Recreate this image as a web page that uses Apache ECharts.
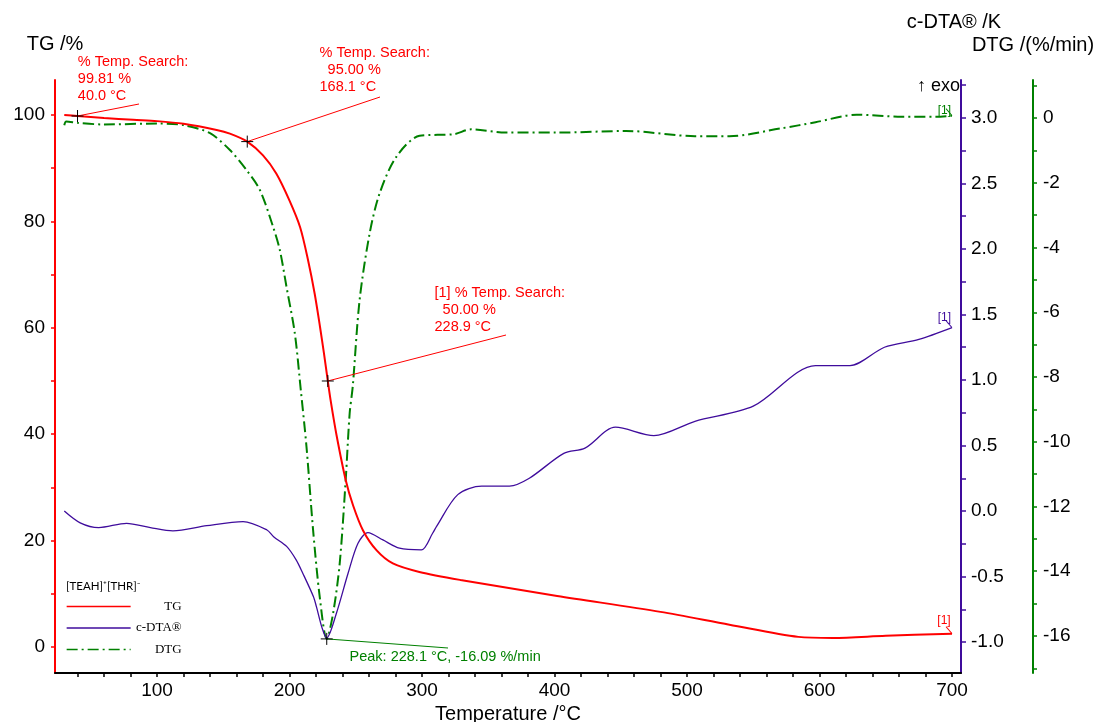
<!DOCTYPE html>
<html>
<head>
<meta charset="utf-8">
<title>TG / c-DTA / DTG</title>
<script src="https://cdn.jsdelivr.net/npm/echarts@6/dist/echarts.min.js"></script>
<style>
  html, body { margin: 0; padding: 0; background: #ffffff; }
  #chart { width: 1099px; height: 722px; }
</style>
</head>
<body>
<div id="chart"></div>
<script>
// ---- measured curves: [temperature °C, value] ----
const tgData = [
  [30, 100.0], [40, 99.81], [60, 99.45], [82, 99.1], [100, 98.85], [120, 98.35],
  [145, 97.2], [155, 96.5], [168.1, 95.0], [180, 92.4], [190, 89.0], [200, 83.9],
  [208, 78.9], [214, 72.7], [219, 66.4], [223, 60.2], [226, 55.2], [228.9, 50.0],
  [231, 46.4], [235.5, 39.8], [242.4, 31.4], [248, 26.6], [255.5, 21.9], [265.6, 18.2],
  [278, 15.7], [298, 14.1], [329, 12.6], [402, 9.6], [480, 6.6], [532, 4.2],
  [584, 1.9], [610, 1.7], [650, 2.1], [700, 2.5]
];

const dtaData = [
  [30, 0.0], [42, -0.09], [56, -0.127], [77, -0.094], [95, -0.127], [112, -0.152],
  [137.5, -0.112], [165, -0.081], [183, -0.145], [188, -0.196], [198, -0.272],
  [205, -0.373], [210, -0.475], [218, -0.653], [220.3, -0.73], [224.5, -0.89],
  [228, -0.97], [235.4, -0.78], [244.2, -0.475], [251.7, -0.246], [259.2, -0.165],
  [270.5, -0.221], [283, -0.284], [299.5, -0.297], [308, -0.17], [311, -0.117],
  [327, 0.125], [345, 0.19], [366, 0.19], [381, 0.25], [407, 0.44], [423, 0.48],
  [446, 0.64], [475, 0.576], [506, 0.685], [550, 0.80], [597, 1.11], [623, 1.11],
  [649, 1.25], [675, 1.31], [700, 1.40]
];

const dtgData = [
  [30, -0.22], [31.5, -0.11], [40, -0.15], [60, -0.2], [100, -0.17], [120, -0.22],
  [140, -0.47], [155, -0.99], [167.6, -1.61], [177.6, -2.22], [187.6, -3.36],
  [192.7, -4.08], [197.7, -5.21], [204, -6.65], [208.5, -8.4], [212.8, -10.15],
  [217.8, -12.73], [222.8, -14.79], [228.1, -16.09], [232.9, -15.3], [237.9, -13.75],
  [242.4, -11.18], [245.4, -9.12], [247.7, -8.3], [252.9, -5.62], [260.5, -3.56],
  [268, -2.33], [280.6, -1.2], [298.2, -0.55], [324, -0.5], [337, -0.35], [363, -0.45],
  [402, -0.45], [454, -0.40], [506, -0.56], [532, -0.56], [571, -0.32], [597, -0.13],
  [628, 0.10], [662, 0.04], [688, 0.04], [700, 0.07]
];

// ---- evaluated points ----
const searchTemps = [40.0, 168.1, 228.9];
const searchMass = [99.81, 95.00, 50.00];
const searchTags = ['', '', '[1] '];
const peakTemp = 228.1;
const peakRate = -16.09;

// ---- ticks and labels ----
const tempTicks = [40, 60, 80, 100, 120, 140, 160, 180, 200, 220, 240, 260, 280, 300,
  320, 340, 360, 380, 400, 420, 440, 460, 480, 500, 520, 540, 560, 580, 600, 620,
  640, 660, 680, 700];
const tempLabels = [100, 200, 300, 400, 500, 600, 700];
const tgTicks = [0, 10, 20, 30, 40, 50, 60, 70, 80, 90, 100];
const tgLabels = [0, 20, 40, 60, 80, 100];
const dtaTicks = [-1.0, -0.75, -0.5, -0.25, 0, 0.25, 0.5, 0.75, 1.0, 1.25, 1.5, 1.75,
  2.0, 2.25, 2.5, 2.75, 3.0, 3.25];
const dtaLabels = [-1.0, -0.5, 0.0, 0.5, 1.0, 1.5, 2.0, 2.5, 3.0];
const dtgTicks = [-17, -16, -15, -14, -13, -12, -11, -10, -9, -8, -7, -6, -5, -4, -3,
  -2, -1, 0, 1];
const dtgLabels = [-16, -14, -12, -10, -8, -6, -4, -2, 0];

// ---- styling ----
const RED = '#ff0000';
const PURPLE = '#3f0c9c';
const GREEN = '#008000';
const SANS = '"Liberation Sans", Arial, sans-serif';
const SERIF = '"Liberation Serif", "Times New Roman", serif';
const DASH_DOT = [11, 4, 2, 4];
const SMOOTH = 0.3;

// annotation placement (pixel offsets of the text blocks and leader-line ends)
const searchTextPos = [[6.8, -55.9], [78.8, -90.9], [113.2, -90.3]];
const searchIndent = ['', '  ', '  '];
const searchLeaderEnd = [[139, 104], [380, 97], [506, 335]];
const peakTextPos = [29.3, 15.8];
const peakLeaderEnd = [448, 648];

const crossSymbol = 'path://M0,6H12M6,0V12';
const tagSymbol = 'path://M0,0L6,7';

function crossItem(coord, text, pos, color) {
  return {
    coord: coord,
    symbol: crossSymbol,
    symbolSize: 12,
    itemStyle: { color: 'transparent', borderColor: '#000', borderWidth: 1 },
    label: {
      show: true, formatter: text, position: pos, align: 'left', verticalAlign: 'top',
      color: color, fontFamily: SANS, fontSize: 14.5, lineHeight: 17
    }
  };
}

function endTag(series, color, pos) {
  const last = series[series.length - 1];
  return {
    coord: last,
    symbol: tagSymbol,
    symbolSize: [6, 7],
    symbolOffset: [-3, -3.5],
    itemStyle: { color: 'transparent', borderColor: color, borderWidth: 1 },
    label: {
      show: true, formatter: '[1]', position: pos, align: 'center', verticalAlign: 'bottom',
      color: color, fontFamily: SANS, fontSize: 12
    }
  };
}

const tgMarks = searchTemps.map((t, i) => crossItem(
  [t, searchMass[i]],
  searchTags[i] + '% Temp. Search:\n' + searchIndent[i] + searchMass[i].toFixed(2) + ' %\n' + t.toFixed(1) + ' °C',
  searchTextPos[i], RED));
tgMarks.push(endTag(tgData, RED, [-1.5, 0.3]));

const tgLeaders = searchTemps.map((t, i) => [
  { coord: [t, searchMass[i]] },
  { x: searchLeaderEnd[i][0], y: searchLeaderEnd[i][1] }
]);

const dtgMarks = [
  crossItem([peakTemp, peakRate],
    'Peak: ' + peakTemp.toFixed(1) + ' °C, ' + peakRate.toFixed(2) + ' %/min',
    peakTextPos, GREEN),
  endTag(dtgData, GREEN, [-1.1, 8.3])
];

const dtaMarks = [endTag(dtaData, PURPLE, [-1.1, 3.7])];

function tickAxis(values, color, len) {
  return { show: true, customValues: values, length: len, lineStyle: { color: color, width: 1.5 } };
}

const labelStyle = { color: '#000', fontFamily: SANS, fontSize: 19 };
const nameStyle = { color: '#000', fontFamily: SANS, fontSize: 20 };

const chart = echarts.init(document.getElementById('chart'), null, { renderer: 'canvas' });

chart.setOption({
  animation: false,
  backgroundColor: '#ffffff',
  grid: { left: 55, right: 138, top: 80, bottom: 49, containLabel: false, outerBoundsMode: 'none' },
  legend: {
    orient: 'vertical',
    left: 61,
    top: 595,
    itemWidth: 64,
    itemHeight: 14,
    itemGap: 8.5,
    selectedMode: false,
    data: ['TG', 'c-DTA®', 'DTG'],
    formatter: '{r|{name}}',
    itemStyle: { opacity: 0 },
    lineStyle: { width: 1.3 },
    textStyle: {
      color: '#000', fontFamily: SERIF, fontSize: 13,
      rich: { r: { width: 46, align: 'right', fontFamily: SERIF, fontSize: 13, color: '#000' } }
    }
  },
  graphic: [
    {
      type: 'text', left: 66, top: 580, silent: true,
      style: { text: '[TEAH]⁺[THR]⁻', fill: '#000', font: '11.5px Lato, "DejaVu Sans", sans-serif' }
    },
    {
      type: 'text', left: 917, top: 77, silent: true,
      style: { text: '↑ exo', fill: '#000', font: '18px "Liberation Sans", "DejaVu Sans", sans-serif' }
    }
  ],
  xAxis: {
    type: 'value',
    min: 23, max: 706.8,
    name: 'Temperature /°C',
    nameLocation: 'middle',
    nameGap: 27,
    nameTextStyle: nameStyle,
    axisLine: { show: true, onZero: false, lineStyle: { color: '#000', width: 2 } },
    axisTick: tickAxis(tempTicks, '#000', 4),
    axisLabel: Object.assign({ customValues: tempLabels, margin: 8, formatter: v => String(v) }, labelStyle),
    splitLine: { show: false },
    minorTick: { show: false }
  },
  yAxis: [
    {
      type: 'value', position: 'left',
      min: -4.89, max: 106.58,
      name: 'TG /%', nameLocation: 'end', nameGap: 26,
      nameTextStyle: nameStyle,
      axisLine: { show: true, onZero: false, lineStyle: { color: RED, width: 2 } },
      axisTick: tickAxis(tgTicks, RED, 4),
      axisLabel: Object.assign({ customValues: tgLabels, margin: 10, formatter: v => String(v) }, labelStyle),
      splitLine: { show: false }
    },
    {
      type: 'value', position: 'right', offset: 0,
      min: -1.2366, max: 3.290,
      name: 'c-DTA® /K', nameLocation: 'end', nameGap: 48,
      nameTextStyle: Object.assign({ padding: [0, 14, 0, 0] }, nameStyle),
      axisLine: { show: true, onZero: false, lineStyle: { color: PURPLE, width: 2 } },
      axisTick: tickAxis(dtaTicks, PURPLE, 5),
      axisLabel: Object.assign({ customValues: dtaLabels, margin: 10, formatter: v => v.toFixed(1) }, labelStyle),
      splitLine: { show: false }
    },
    {
      type: 'value', position: 'right', offset: 72,
      min: -17.143, max: 1.174,
      name: 'DTG /(%/min)', nameLocation: 'end', nameGap: 25,
      nameTextStyle: nameStyle,
      axisLine: { show: true, onZero: false, lineStyle: { color: GREEN, width: 2 } },
      axisTick: tickAxis(dtgTicks, GREEN, 4),
      axisLabel: Object.assign({ customValues: dtgLabels, margin: 10, formatter: v => String(v) }, labelStyle),
      splitLine: { show: false }
    }
  ],
  series: [
    {
      name: 'DTG', type: 'line', yAxisIndex: 2, data: dtgData,
      symbol: 'none', smooth: SMOOTH, z: 2,
      lineStyle: { color: GREEN, width: 2, type: DASH_DOT },
      itemStyle: { color: GREEN },
      emphasis: { disabled: true },
      markPoint: { silent: true, animation: false, data: dtgMarks },
      markLine: {
        silent: true, animation: false, symbol: ['none', 'none'],
        lineStyle: { color: GREEN, width: 1, type: 'solid' },
        label: { show: false },
        emphasis: { disabled: true },
        data: [[{ coord: [peakTemp, peakRate] }, { x: peakLeaderEnd[0], y: peakLeaderEnd[1] }]]
      }
    },
    {
      name: 'c-DTA®', type: 'line', yAxisIndex: 1, data: dtaData,
      symbol: 'none', smooth: SMOOTH, z: 3,
      lineStyle: { color: PURPLE, width: 1.3 },
      itemStyle: { color: PURPLE },
      emphasis: { disabled: true },
      markPoint: { silent: true, animation: false, data: dtaMarks }
    },
    {
      name: 'TG', type: 'line', yAxisIndex: 0, data: tgData,
      symbol: 'none', smooth: SMOOTH, z: 4,
      lineStyle: { color: RED, width: 2 },
      itemStyle: { color: RED },
      emphasis: { disabled: true },
      markPoint: { silent: true, animation: false, data: tgMarks },
      markLine: {
        silent: true, animation: false, symbol: ['none', 'none'],
        lineStyle: { color: RED, width: 1, type: 'solid' },
        label: { show: false },
        emphasis: { disabled: true },
        data: tgLeaders
      }
    }
  ]
});
</script>
</body>
</html>
